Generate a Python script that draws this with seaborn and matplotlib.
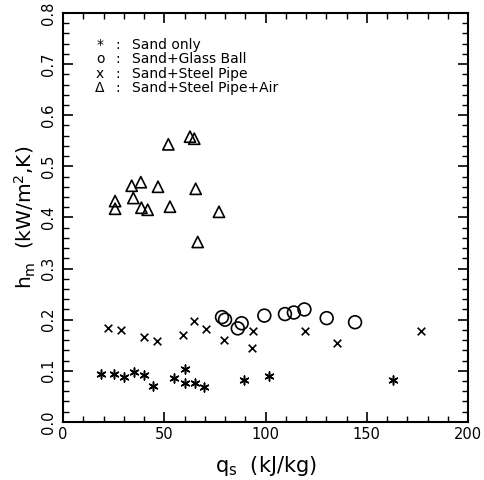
import numpy as np
import pandas as pd
import matplotlib
matplotlib.use("Agg")
import matplotlib.pyplot as plt
import seaborn as sns
from matplotlib.ticker import MultipleLocator

# ---- data ----
sand_q = [18.8, 25.3, 30.0, 35.1, 40.0, 44.6, 54.7, 60.1, 60.1, 65.3, 69.5, 89.3, 101.6, 162.8]
sand_h = [0.094, 0.093, 0.087, 0.098, 0.091, 0.071, 0.086, 0.104, 0.077, 0.077, 0.069, 0.082, 0.090, 0.082]

glass_q = [78.5, 80.0, 86.3, 88.2, 99.4, 109.6, 114.0, 119.2, 130.2, 144.2]
glass_h = [0.205, 0.200, 0.183, 0.193, 0.208, 0.211, 0.214, 0.220, 0.203, 0.195]

pipe_q = [22.0, 28.6, 40.0, 46.4, 59.4, 64.8, 70.6, 79.5, 93.7, 93.2, 119.5, 135.1, 176.6]
pipe_h = [0.184, 0.179, 0.166, 0.159, 0.170, 0.198, 0.181, 0.160, 0.177, 0.144, 0.178, 0.154, 0.178]

air_q = [25.7, 25.7, 33.9, 34.7, 38.4, 38.7, 41.8, 46.9, 52.0, 52.8, 62.7, 64.8, 65.5, 66.5, 77.0]
air_h = [0.432, 0.417, 0.462, 0.438, 0.469, 0.419, 0.415, 0.460, 0.543, 0.421, 0.558, 0.554, 0.456, 0.352, 0.411]

legend_marks = ["*", "o", "x", "Δ"]
legend_labels = ["Sand only", "Sand+Glass Ball", "Sand+Steel Pipe", "Sand+Steel Pipe+Air"]

x_ticks = [0, 50, 100, 150, 200]
y_ticks = [0.0, 0.1, 0.2, 0.3, 0.4, 0.5, 0.6, 0.7, 0.8]

sns.set_theme(style="white")
plt.rcParams["font.family"] = ["DejaVu Sans"]

fig = plt.figure(figsize=(4.85, 4.8), dpi=100)
ax = fig.add_axes([0.130, 0.121, 0.835, 0.852])

sns.scatterplot(x=sand_q, y=sand_h, marker=(6, 2, 0), s=42, color="black",
                linewidth=1.1, ax=ax)
sns.scatterplot(x=glass_q, y=glass_h, marker="o", s=85, facecolor="none",
                edgecolor="black", linewidth=1.2, ax=ax)
sns.scatterplot(x=pipe_q, y=pipe_h, marker="x", s=30, color="black",
                linewidth=1.2, ax=ax)
sns.scatterplot(x=air_q, y=air_h, marker="^", s=65, facecolor="none",
                edgecolor="black", linewidth=1.2, ax=ax)

ax.set_xlim(0, 200)
ax.set_ylim(0, 0.8)
ax.set_xticks(x_ticks)
ax.set_yticks(y_ticks)
ax.set_xticklabels([str(v) for v in x_ticks])
ax.set_yticklabels([f"{v:.1f}" for v in y_ticks], rotation=90, va="center")
ax.xaxis.set_minor_locator(MultipleLocator(10))
ax.yaxis.set_minor_locator(MultipleLocator(0.02))
ax.tick_params(which="both", direction="in", top=True, right=True,
               bottom=True, left=True, color="black", labelsize=10.5,
               labelcolor="black")
ax.tick_params(which="major", length=7, width=1.2)
ax.tick_params(which="minor", length=4, width=1.0)
ax.tick_params(axis="x", which="major", pad=4)
ax.tick_params(axis="y", which="major", pad=5)
for s in ax.spines.values():
    s.set_color("black")
    s.set_linewidth(1.5)

ax.set_xlabel(r"q$_{\mathsf{s}}$  (kJ/kg)", fontsize=15, color="black", labelpad=8)
ax.set_ylabel(r"h$_{\mathsf{m}}$  (kW/m$^{\mathsf{2}}$,K)", fontsize=14.5, color="black", labelpad=2)

leg_y = [0.738, 0.709, 0.681, 0.654]
for m, lab, yy in zip(legend_marks, legend_labels, leg_y):
    ax.text(18.3, yy, m, ha="center", va="center", fontsize=10, color="black")
    ax.text(27.0, yy, ":", ha="center", va="center", fontsize=10, color="black")
    ax.text(34.0, yy, lab, ha="left", va="center", fontsize=10, color="black")

fig.savefig("out.png", dpi=100, facecolor="white")
